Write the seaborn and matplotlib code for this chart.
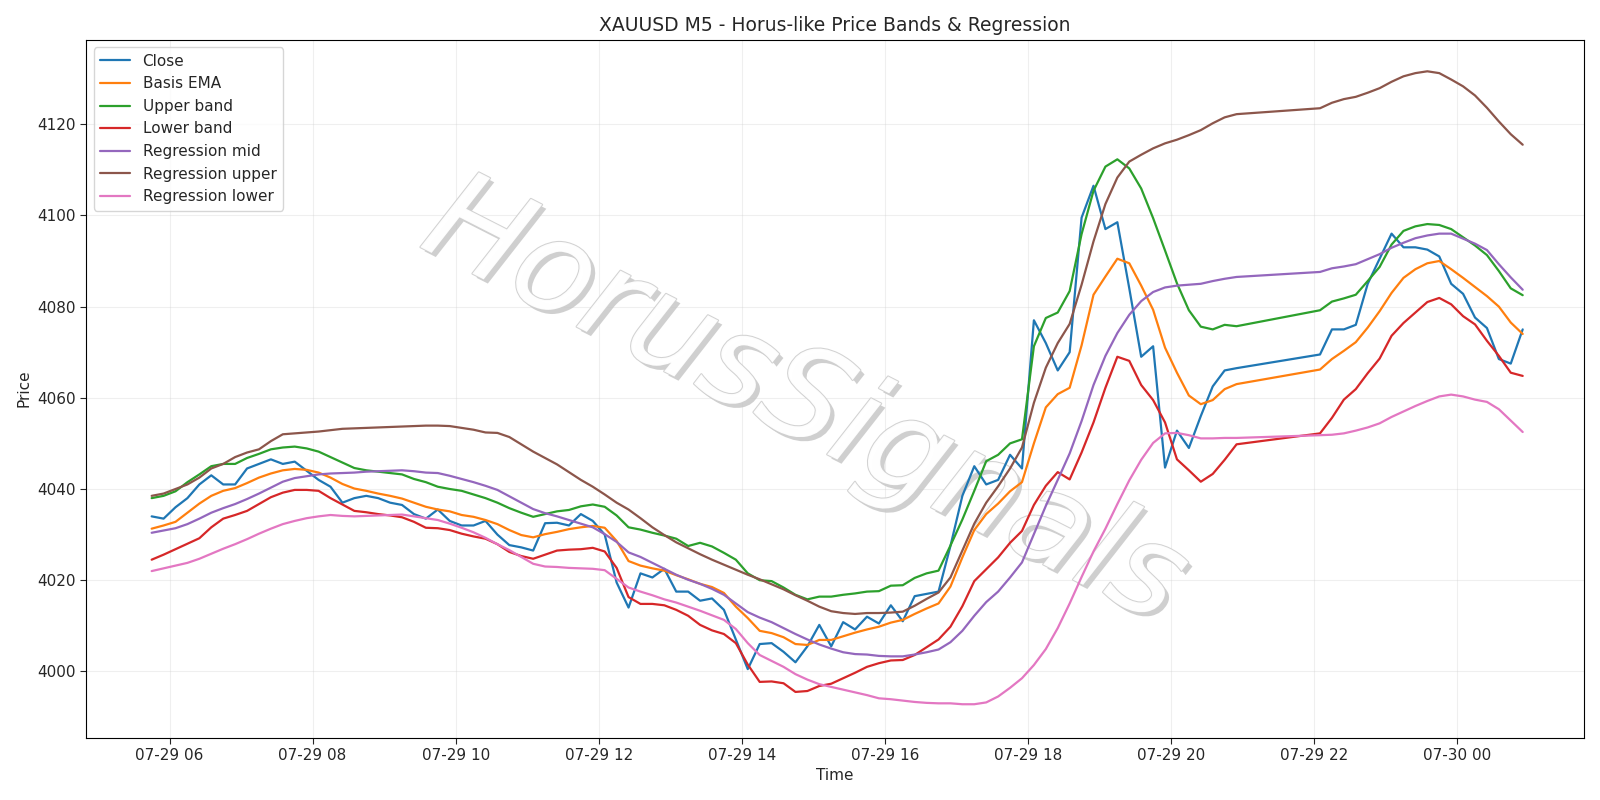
import numpy as np
import pandas as pd
import matplotlib
matplotlib.use("Agg")
import matplotlib.pyplot as plt
import matplotlib.dates as mdates
import matplotlib.patheffects as pe
import seaborn as sns

sns.set_style("white")
plt.rcParams['font.family'] = ['DejaVu Sans']
plt.rcParams['font.size'] = 11

t1 = pd.date_range("2025-07-29 05:45", "2025-07-29 20:55", freq="10min")
t2 = pd.date_range("2025-07-29 22:05", "2025-07-30 00:55", freq="10min")
times = t1.append(t2)

close = [4034, 4033.5,
 4036, 4038, 4041, 4043, 4041, 4041,
 4044.5, 4045.5, 4046.5, 4045.5, 4046, 4044,
 4042, 4040.5, 4037, 4038, 4038.5, 4038,
 4037, 4036.5, 4034.5, 4033.5, 4035.5, 4033,
 4032, 4032, 4033, 4030, 4027.7, 4027.2,
 4026.5, 4032.5, 4032.6, 4032, 4034.5, 4033,
 4030, 4019.5, 4014, 4021.5, 4020.6, 4022.5,
 4017.5, 4017.5, 4015.5, 4016, 4013.5, 4007,
 4000.5, 4006, 4006.2, 4004.3, 4002, 4005.5,
 4010.2, 4005.5, 4010.8, 4009.2, 4012, 4010.5,
 4014.5, 4011, 4016.5, 4017, 4017.5, 4027.5,
 4038.5, 4045, 4041, 4042, 4047.5, 4044.5,
 4077, 4072, 4066, 4070, 4099.5, 4106.5,
 4097, 4098.5, 4084, 4069, 4071.3, 4044.7,
 4052.8, 4049, 4056, 4062.5, 4066, 4066.5,
 4069.5, 4075, 4075, 4076, 4085, 4090.5,
 4096, 4093, 4093, 4092.5, 4091, 4085,
 4082.8, 4077.6, 4075.3, 4068.5, 4067.5, 4075]

basis = [4031.3, 4032,
 4032.8, 4034.8, 4036.8, 4038.5, 4039.6, 4040.2,
 4041.3, 4042.5, 4043.4, 4044.1, 4044.4, 4044.2,
 4043.6, 4042.5, 4041.1, 4040.1, 4039.6, 4039,
 4038.5, 4037.9, 4037, 4036.1, 4035.5, 4035.1,
 4034.3, 4033.9, 4033.2, 4032.3, 4031, 4029.9,
 4029.4, 4030.1, 4030.6, 4031.2, 4031.6, 4031.9,
 4031.5, 4028.6, 4024.2, 4023.2, 4022.6, 4022.1,
 4021.1, 4020.2, 4019.2, 4018.5, 4017.2, 4014.2,
 4011.7, 4008.9, 4008.4, 4007.5, 4006, 4005.8,
 4006.9, 4006.9, 4007.7, 4008.5, 4009.2, 4009.8,
 4010.7, 4011.3, 4012.6, 4013.8, 4014.9, 4018.6,
 4025, 4031, 4034.5, 4036.8, 4039.5, 4041.5,
 4050, 4057.9, 4060.8, 4062.2, 4071.5, 4082.6,
 4086.6, 4090.5, 4089.5, 4084.6, 4079.3, 4071,
 4065.5, 4060.5, 4058.6, 4059.5, 4061.9, 4063,
 4066.2, 4068.5, 4070.3, 4072.2, 4075.4, 4079,
 4083, 4086.3, 4088.2, 4089.5, 4090, 4088.2,
 4086.3, 4084.3, 4082.3, 4080, 4076.5, 4074]

upper = [4038, 4038.5,
 4039.5, 4041.5, 4043.2, 4045, 4045.5, 4045.5,
 4046.8, 4047.7, 4048.7, 4049.1, 4049.3, 4048.9,
 4048.2, 4047, 4045.8, 4044.6, 4044.1, 4043.8,
 4043.5, 4043.2, 4042.2, 4041.5, 4040.5, 4040,
 4039.6, 4038.8, 4038, 4037, 4035.8, 4034.8,
 4033.9, 4034.5, 4035.1, 4035.4, 4036.2, 4036.6,
 4036.1, 4034.2, 4031.6, 4031.1, 4030.4, 4029.8,
 4029.1, 4027.5, 4028.2, 4027.4, 4026, 4024.5,
 4021.5, 4020, 4019.8, 4018.4, 4016.8, 4015.8,
 4016.4, 4016.4, 4016.8, 4017.1, 4017.5, 4017.6,
 4018.8, 4018.9, 4020.5, 4021.5, 4022.1, 4027.6,
 4033.3, 4039.6, 4046.1, 4047.5, 4050, 4050.9,
 4071.3, 4077.5, 4078.7, 4083.4, 4095.9, 4105.4,
 4110.7, 4112.3, 4110.3, 4105.9, 4099.4, 4092.3,
 4085.1, 4079.2, 4075.6, 4075, 4076, 4075.7,
 4079.2, 4081.1, 4081.8, 4082.6, 4085.6, 4088.7,
 4093.6, 4096.6, 4097.6, 4098.1, 4097.9, 4097,
 4095.2, 4093.4, 4091.3, 4087.8, 4084, 4082.5]

lower = [4024.5, 4025.6,
 4026.8, 4028, 4029.2, 4031.6, 4033.5, 4034.3,
 4035.2, 4036.7, 4038.2, 4039.2, 4039.8, 4039.8,
 4039.6, 4038, 4036.6, 4035.2, 4034.9, 4034.5,
 4034.2, 4033.8, 4032.8, 4031.5, 4031.4, 4031,
 4030.2, 4029.6, 4029.1, 4027.9, 4026.2, 4025.3,
 4024.7, 4025.6, 4026.5, 4026.7, 4026.8, 4027.1,
 4026.3, 4022.7, 4016.3, 4014.8, 4014.8, 4014.5,
 4013.5, 4012.2, 4010.2, 4009, 4008.2, 4006.2,
 4001.5, 3997.7, 3997.8, 3997.4, 3995.5, 3995.7,
 3996.8, 3997.3, 3998.5, 3999.7, 4001, 4001.8,
 4002.4, 4002.5, 4003.6, 4005.3, 4007, 4009.8,
 4014.3, 4019.8, 4022.4, 4025, 4028.2, 4030.8,
 4036.5, 4040.7, 4043.7, 4042.1, 4048, 4054.6,
 4062.2, 4069, 4068.1, 4062.8, 4059.5, 4054.6,
 4046.5, 4044.1, 4041.6, 4043.3, 4046.4, 4049.8,
 4052.2, 4055.6, 4059.6, 4061.9, 4065.4, 4068.6,
 4073.6, 4076.4, 4078.7, 4081, 4081.9, 4080.5,
 4077.9, 4076.1, 4072.5, 4069.2, 4065.5, 4064.8]

reg_mid = [4030.4, 4030.9,
 4031.4, 4032.3, 4033.5, 4034.8, 4035.8, 4036.7,
 4037.8, 4039, 4040.3, 4041.6, 4042.4, 4042.8,
 4043.2, 4043.4, 4043.5, 4043.6, 4043.8, 4043.9,
 4044, 4044.1, 4043.9, 4043.6, 4043.5, 4042.9,
 4042.2, 4041.5, 4040.7, 4039.8, 4038.4, 4037,
 4035.6, 4034.7, 4034, 4033.2, 4032.4, 4031.6,
 4030.1, 4028.4, 4026.1, 4025.1, 4023.8, 4022.5,
 4021.2, 4020.1, 4019.2, 4018.1, 4016.8, 4014.9,
 4013, 4011.8, 4010.8, 4009.5, 4008.2, 4007,
 4005.9, 4005, 4004.2, 4003.8, 4003.7, 4003.4,
 4003.3, 4003.3, 4003.7, 4004.2, 4004.8, 4006.4,
 4008.9, 4012.2, 4015.2, 4017.5, 4020.6, 4023.9,
 4030.1, 4036.3, 4042, 4047.8, 4054.9, 4062.8,
 4069.2, 4074.2, 4078.2, 4081.2, 4083.2, 4084.2,
 4084.6, 4084.8, 4085, 4085.6, 4086.1, 4086.5,
 4087.6, 4088.4, 4088.8, 4089.3, 4090.4, 4091.5,
 4092.9, 4094, 4095, 4095.6, 4096, 4096,
 4094.9, 4093.8, 4092.4, 4089.3, 4086.4, 4083.7]

reg_upper = [4038.5, 4039,
 4040, 4041, 4042.5, 4044.5, 4045.5, 4047,
 4048, 4048.7, 4050.5, 4052, 4052.2, 4052.4,
 4052.6, 4052.9, 4053.2, 4053.3, 4053.4, 4053.5,
 4053.6, 4053.7, 4053.8, 4053.9, 4053.9, 4053.8,
 4053.4, 4053, 4052.4, 4052.3, 4051.4, 4049.8,
 4048.2, 4046.8, 4045.4, 4043.7, 4042, 4040.5,
 4038.8, 4037, 4035.5, 4033.6, 4031.6, 4029.9,
 4028.3, 4027, 4025.7, 4024.5, 4023.4, 4022.3,
 4021.2, 4020.2, 4019.1, 4018, 4016.7, 4015.5,
 4014.2, 4013.2, 4012.8, 4012.6, 4012.8, 4012.8,
 4012.9, 4013.1, 4014.4, 4015.9, 4017.3, 4020.6,
 4026.5, 4032.4, 4037, 4040.6, 4044.5, 4049.1,
 4058.9, 4066.6, 4072, 4076.2, 4084.8, 4094.3,
 4102.5, 4108.3, 4111.8, 4113.3, 4114.7, 4115.8,
 4116.6, 4117.6, 4118.7, 4120.2, 4121.5, 4122.2,
 4123.5, 4124.7, 4125.5, 4126, 4126.9, 4127.9,
 4129.3, 4130.5, 4131.2, 4131.6, 4131.2, 4129.8,
 4128.3, 4126.3, 4123.6, 4120.6, 4117.8, 4115.5]

reg_lower = [4022, 4022.6,
 4023.2, 4023.8, 4024.7, 4025.8, 4026.9, 4027.9,
 4029, 4030.2, 4031.3, 4032.3, 4033, 4033.6,
 4034, 4034.3, 4034.1, 4034, 4034.1, 4034.2,
 4034.3, 4034.4, 4034, 4033.6, 4033.2, 4032.4,
 4031.5, 4030.5, 4029.3, 4027.9, 4026.6, 4025.1,
 4023.6, 4023, 4022.9, 4022.7, 4022.6, 4022.5,
 4022.2, 4020.3, 4018.4, 4017.5, 4016.7, 4015.8,
 4015.1, 4014.2, 4013.3, 4012.3, 4011.3, 4009.3,
 4006.2, 4003.6, 4002.3, 4001, 3999.4, 3998.2,
 3997.2, 3996.6, 3996, 3995.4, 3994.8, 3994.1,
 3993.9, 3993.6, 3993.3, 3993.1, 3993, 3993,
 3992.8, 3992.8, 3993.2, 3994.5, 3996.4, 3998.5,
 4001.4, 4004.9, 4009.5, 4014.9, 4020.7, 4026.3,
 4031.3, 4036.7, 4041.9, 4046.4, 4050.1, 4052.2,
 4052.3, 4051.8, 4051.1, 4051.1, 4051.2, 4051.2,
 4051.8, 4051.9, 4052.2, 4052.8, 4053.5, 4054.4,
 4055.8, 4057, 4058.2, 4059.3, 4060.3, 4060.7,
 4060.3, 4059.6, 4059.1, 4057.5, 4055, 4052.5]

series = [("Close", close), ("Basis EMA", basis), ("Upper band", upper),
          ("Lower band", lower), ("Regression mid", reg_mid),
          ("Regression upper", reg_upper), ("Regression lower", reg_lower)]
colors = ["#1f77b4", "#ff7f0e", "#2ca02c", "#d62728", "#9467bd", "#8c564b", "#e377c2"]

fig, ax = plt.subplots(figsize=(16, 8), dpi=100)
for (name, vals), c in zip(series, colors):
    df = pd.DataFrame({"Time": times, "Price": vals})
    sns.lineplot(data=df, x="Time", y="Price", ax=ax, color=c, label=name, linewidth=1.6)

ax.text(0.48, 0.48, "HorusSignals", transform=ax.transAxes, fontsize=92,
        rotation=-27, ha="center", va="center", color="white", alpha=0.95,
        fontstyle="italic", zorder=1,
        path_effects=[pe.SimplePatchShadow(offset=(3, -3), shadow_rgbFace="#c4c4c4", alpha=0.8),
                      pe.withStroke(linewidth=1.5, foreground="#d0d0d0")])

ax.set_title("XAUUSD M5 - Horus-like Price Bands & Regression", fontsize=13.5)
ax.set_xlabel("Time", fontsize=11)
ax.set_ylabel("Price", fontsize=11)
ax.xaxis.set_major_locator(mdates.HourLocator(byhour=range(0, 24, 2)))
ax.xaxis.set_major_formatter(mdates.DateFormatter("%m-%d %H"))
ax.set_xlim(pd.Timestamp("2025-07-29 04:50"), pd.Timestamp("2025-07-30 01:46"))
ax.set_ylim(3985.5, 4138.5)
ax.grid(True, alpha=0.3)
ax.tick_params(axis="both", labelsize=11, direction="out", length=4, left=True, bottom=True)
ax.legend(loc="upper left", fontsize=11)
for s in ax.spines.values():
    s.set_visible(True)
    s.set_color("black")
fig.tight_layout()
fig.savefig("out.png")
